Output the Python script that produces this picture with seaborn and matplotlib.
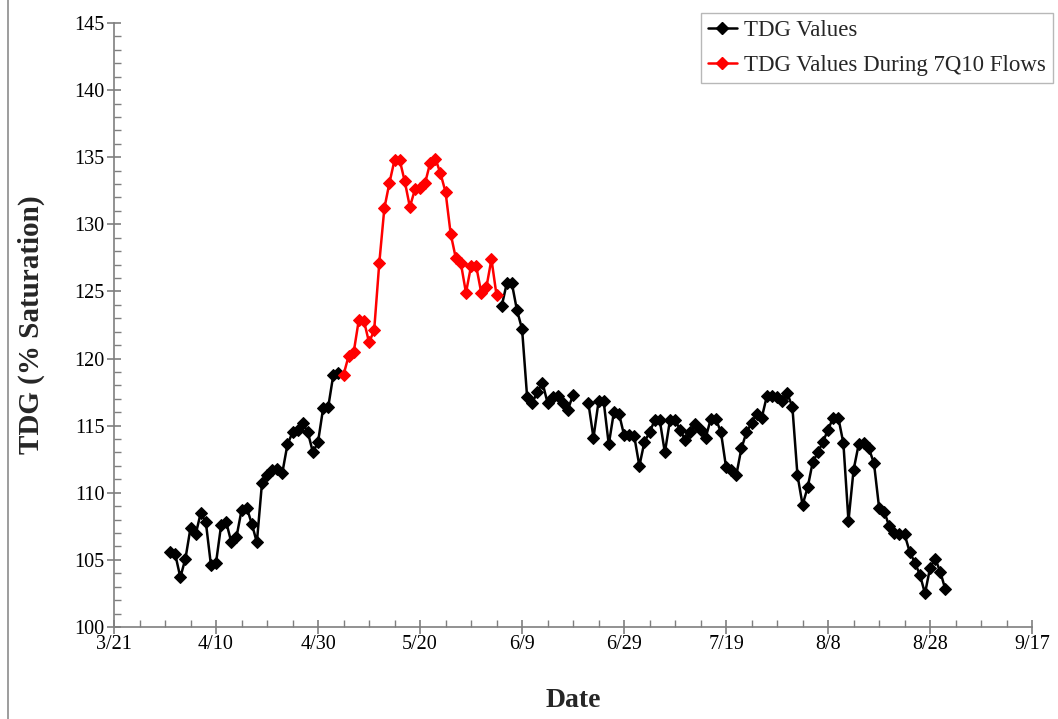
import matplotlib
matplotlib.use("Agg")
import matplotlib.pyplot as plt
from matplotlib.lines import Line2D
from matplotlib.ticker import FixedLocator, MultipleLocator
import pandas as pd
import seaborn as sns

# TDG readings, one per day; each list starts on the date given
black_a_start = "2011-04-01"
black_a = [105.6, 105.4, 103.7, 105.1, 107.4, 106.9, 108.5, 107.8, 104.6, 104.8,
           107.6, 107.8, 106.3, 106.7, 108.7, 108.9, 107.7, 106.3, 110.7, 111.3,
           111.7, 111.8, 111.5, 113.6, 114.5, 114.7, 115.2, 114.5, 113.0, 113.8,
           116.3, 116.4, 118.8, 118.9]

red_start = "2011-05-05"
red_7q10 = [118.8, 120.2, 120.5, 122.9, 122.8, 121.2, 122.1, 127.1, 131.2, 133.1,
            134.8, 134.8, 133.2, 131.3, 132.6, 132.7, 133.1, 134.6, 134.9, 133.8,
            132.4, 129.3, 127.5, 127.1, 124.9, 126.9, 126.9, 124.9, 125.3, 127.4,
            124.7]

black_b_start = "2011-06-05"
black_b = [123.9, 125.6, 125.6, 123.6, 122.2, 117.1, 116.7, 117.5, 118.2, 116.7,
           117.1, 117.2, 116.7, 116.2, 117.3]

black_c_start = "2011-06-22"
black_c = [116.7, 114.1, 116.8, 116.8, 113.6, 116.0, 115.9, 114.3, 114.3, 114.2,
           112.0, 113.8, 114.5, 115.4, 115.4, 113.0, 115.4, 115.4, 114.7, 113.9,
           114.5, 115.1, 114.7, 114.1, 115.5, 115.5, 114.5, 111.9, 111.7, 111.3,
           113.3, 114.5, 115.2, 115.9, 115.6, 117.2, 117.2, 117.1, 116.8, 117.4,
           116.4, 111.3, 109.1, 110.4, 112.3, 113.0, 113.8, 114.7, 115.6, 115.6,
           113.7, 107.9, 111.7, 113.6, 113.7, 113.3, 112.2, 108.9, 108.6, 107.5,
           107.0, 106.9, 106.9, 105.6, 104.8, 103.9, 102.5, 104.4, 105.1, 104.1,
           102.8]

tick_dates = ["2011-03-21", "2011-04-10", "2011-04-30", "2011-05-20", "2011-06-09",
              "2011-06-29", "2011-07-19", "2011-08-08", "2011-08-28", "2011-09-17"]
tick_labels = ["3/21", "4/10", "4/30", "5/20", "6/9", "6/29", "7/19", "8/8", "8/28", "9/17"]


def segment(start, values, seg):
    return pd.DataFrame({
        "Date": pd.date_range(start, periods=len(values), freq="D"),
        "TDG": values,
        "Segment": seg,
    })


black_df = pd.concat([segment(black_a_start, black_a, 0),
                      segment(black_b_start, black_b, 1),
                      segment(black_c_start, black_c, 2)], ignore_index=True)
red_df = segment(red_start, red_7q10, 0)

sns.set_theme(style="white")
plt.rcParams["font.family"] = ["Liberation Serif", "DejaVu Serif"]

fig = plt.figure(figsize=(10.58, 7.19), dpi=100)
ax = fig.add_axes([0.1078, 0.128, 0.8677, 0.840])

line_kw = dict(marker="D", markersize=6.5, linewidth=1.8, estimator=None,
               units="Segment", legend=False, ax=ax)
sns.lineplot(data=black_df, x="Date", y="TDG", color="black",
             markeredgecolor="black", **line_kw)
sns.lineplot(data=red_df, x="Date", y="TDG", color="#ff0000",
             markeredgecolor="#ff0000", **line_kw)

major = pd.to_datetime(tick_dates)
ax.set_xlim(major[0], major[-1])
ax.set_xticks(major)
ax.set_xticklabels(tick_labels)
ax.xaxis.set_minor_locator(FixedLocator(
    matplotlib.dates.date2num(pd.date_range(major[0], major[-1], freq="5D"))))

ax.set_ylim(100, 145)
ax.yaxis.set_major_locator(MultipleLocator(5))
ax.yaxis.set_minor_locator(MultipleLocator(1))

spine_col = "#7f7f7f"
for side in ["top", "right"]:
    ax.spines[side].set_visible(False)
for side in ["left", "bottom"]:
    ax.spines[side].set_color(spine_col)
    ax.spines[side].set_linewidth(1.2)

ax.tick_params(which="major", direction="inout", length=10, width=1.2,
               color=spine_col, labelsize=14.5, labelcolor="black")
ax.tick_params(which="minor", direction="in", length=5, width=1.0, color=spine_col)
ax.tick_params(axis="x", which="both", bottom=True)
ax.tick_params(axis="y", which="both", left=True)
ax.tick_params(axis="x", which="major", pad=1)
ax.tick_params(axis="y", which="major", pad=2)

ax.set_xlabel("Date", fontsize=20, fontweight="bold", labelpad=24)
ax.set_ylabel("TDG (% Saturation)", fontsize=21, fontweight="bold", labelpad=21)

handles = [
    Line2D([], [], color="black", marker="D", markersize=6.5, linewidth=1.8),
    Line2D([], [], color="#ff0000", marker="D", markersize=6.5, linewidth=1.8),
]
leg = ax.legend(handles, ["TDG Values", "TDG Values During 7Q10 Flows"],
                loc="upper right", bbox_to_anchor=(1053 / 1058, 1 - 13 / 719),
                bbox_transform=fig.transFigure, fontsize=16.5, frameon=True,
                fancybox=False, handlelength=1.3, handletextpad=0.3,
                borderpad=0.3, labelspacing=0.6, borderaxespad=0)
leg.get_frame().set_edgecolor("#a6a6a6")
leg.get_frame().set_linewidth(1.0)

fig.add_artist(Line2D([8 / 1058, 8 / 1058], [0, 1], color="#8c8c8c",
                      linewidth=1.2, transform=fig.transFigure))

fig.savefig("out.png", dpi=100)
